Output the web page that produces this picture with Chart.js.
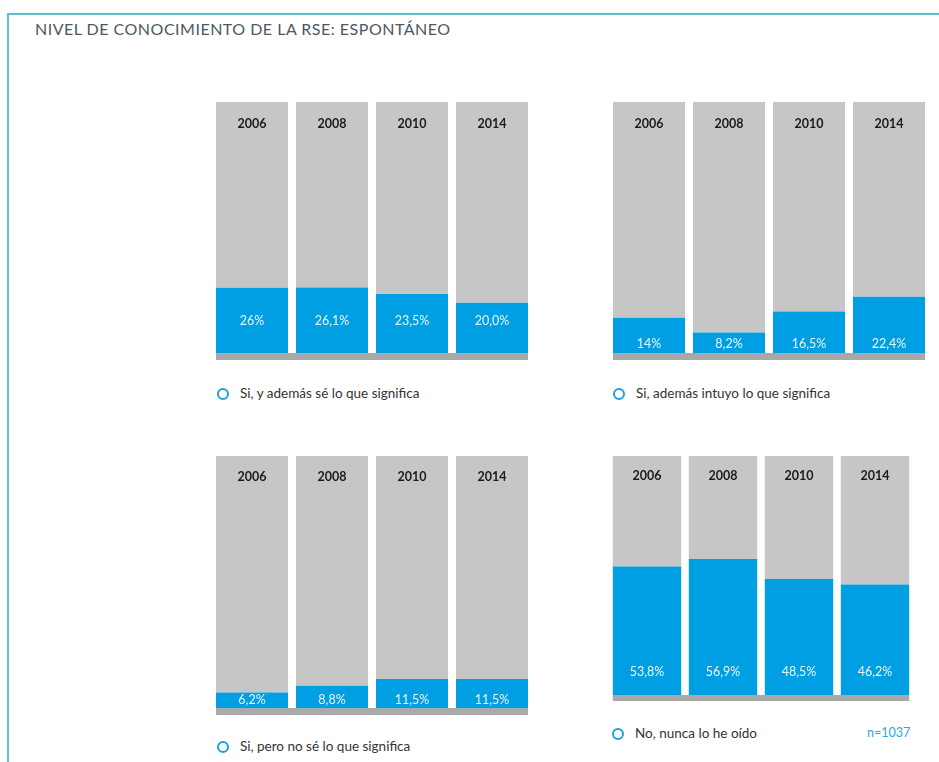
<!DOCTYPE html>
<html>
<head>
<meta charset="utf-8">
<script src="https://cdn.jsdelivr.net/npm/chart.js@4"></script>
<style>
  body { margin: 0; background: #fff; font-family: Lato, "Open Sans", sans-serif; }
  #page { position: relative; width: 939px; height: 762px; overflow: hidden; }
  .frame-top { position: absolute; left: 7px; top: 13px; width: 932px; height: 2px; background: #5dbfca; }
  .frame-left { position: absolute; left: 7px; top: 13px; width: 2px; height: 749px; background: #5dbfca; }
  h1 { position: absolute; left: 35px; top: 19px; margin: 0; font-size: 16px; font-weight: 400;
       color: #4d5863; letter-spacing: 0.5px; }
  .chart { position: absolute; }
  .legend { position: absolute; font-size: 13.5px; color: #333; white-space: nowrap; }
  .legend i { display: inline-block; width: 8px; height: 8px; border: 2.5px solid #1ea0e0; border-radius: 50%;
              margin-right: 11px; vertical-align: -2px; }
  .n { position: absolute; font-size: 12.5px; color: #2aa6e4; }
</style>
</head>
<body>
<div id="page">
  <div class="frame-top"></div>
  <div class="frame-left"></div>
  <h1>NIVEL DE CONOCIMIENTO DE LA RSE: ESPONTÁNEO</h1>

  <canvas id="c1" class="chart"></canvas>
  <canvas id="c2" class="chart"></canvas>
  <canvas id="c3" class="chart"></canvas>
  <canvas id="c4" class="chart"></canvas>

  <div class="legend" style="left:217px; top:385px"><i></i>Si, y además sé lo que significa</div>
  <div class="legend" style="left:613px; top:385px"><i></i>Si, además intuyo lo que significa</div>
  <div class="legend" style="left:217px; top:738px"><i></i>Si, pero no sé lo que significa</div>
  <div class="legend" style="left:612px; top:725px"><i></i>No, nunca lo he oído</div>
  <div class="n" style="left:867px; top:725px">n=1037</div>
</div>

<script>
const years = ['2006', '2008', '2010', '2014'];

// % de encuestados por respuesta y año
const siSabe = [26, 26.1, 23.5, 20.0];
const siIntuye = [14, 8.2, 16.5, 22.4];
const siNoSabe = [6.2, 8.8, 11.5, 11.5];
const noOido = [53.8, 56.9, 48.5, 46.2];

// decimales mostrados en cada etiqueta
const decSiSabe = [0, 1, 1, 1];
const decSiIntuye = [0, 1, 1, 1];
const decSiNoSabe = [1, 1, 1, 1];
const decNoOido = [1, 1, 1, 1];

const BLUE = '#009fe3';
const GREY = '#c6c6c6';
const BASE = '#a9a9a9';

function fmt(v, d) {
  return v.toFixed(d).replace('.', ',') + '%';
}

// years on top of each bar, values inside the blue part, grey base line below
const barText = {
  id: 'barText',
  afterDatasetsDraw(chart, args, opts) {
    const ctx = chart.ctx;
    const blue = chart.getDatasetMeta(0).data;
    const area = chart.chartArea;
    ctx.save();
    ctx.fillStyle = BASE;
    const first = blue[0], last = blue[blue.length - 1];
    ctx.fillRect(first.x - first.width / 2, area.bottom, (last.x + last.width / 2) - (first.x - first.width / 2), opts.base);

    ctx.textAlign = 'center';
    ctx.textBaseline = 'middle';
    blue.forEach((bar, i) => {
      ctx.font = 'bold 12.5px Lato, sans-serif';
      ctx.fillStyle = '#1b1b1b';
      ctx.fillText(years[i], bar.x, area.top + opts.yearOffset);
      ctx.font = '12.5px Lato, sans-serif';
      ctx.fillStyle = '#eaf6fd';
      ctx.fillText(fmt(opts.values[i], opts.decimals[i]), bar.x, area.bottom - opts.valueOffset);
    });
    ctx.restore();
  }
};

function makeChart(id, box, values, decimals, valueOffset, yearOffset) {
  const cv = document.getElementById(id);
  cv.style.left = box.x + 'px';
  cv.style.top = box.y + 'px';
  cv.style.width = box.w + 'px';
  cv.style.height = box.h + 'px';
  cv.width = box.w;
  cv.height = box.h;
  new Chart(cv, {
    type: 'bar',
    data: {
      labels: years,
      datasets: [
        { data: values, backgroundColor: BLUE, borderWidth: 0 },
        { data: values.map(v => 100 - v), backgroundColor: GREY, borderWidth: 0 }
      ]
    },
    options: {
      responsive: false,
      animation: false,
      maintainAspectRatio: false,
      layout: { padding: { left: 0, right: 0, top: 0, bottom: box.base } },
      datasets: { bar: { categoryPercentage: 1, barPercentage: 0.9 } },
      scales: {
        x: { stacked: true, display: false },
        y: { stacked: true, display: false, min: 0, max: 100 }
      },
      plugins: {
        legend: { display: false },
        tooltip: { enabled: false },
        barText: { values: values, decimals: decimals, valueOffset: valueOffset, yearOffset: yearOffset, base: box.base }
      }
    },
    plugins: [barText]
  });
}

makeChart('c1', { x: 212, y: 102, w: 320, h: 258, base: 7 }, siSabe, decSiSabe, 32, 22);
makeChart('c2', { x: 609, y: 102, w: 320, h: 258, base: 7 }, siIntuye, decSiIntuye, 9, 22);
makeChart('c3', { x: 212, y: 456, w: 320, h: 259, base: 7 }, siNoSabe, decSiNoSabe, 8, 21);
makeChart('c4', { x: 609, y: 456, w: 304, h: 245, base: 6 }, noOido, decNoOido, 23, 20);
</script>
</body>
</html>
